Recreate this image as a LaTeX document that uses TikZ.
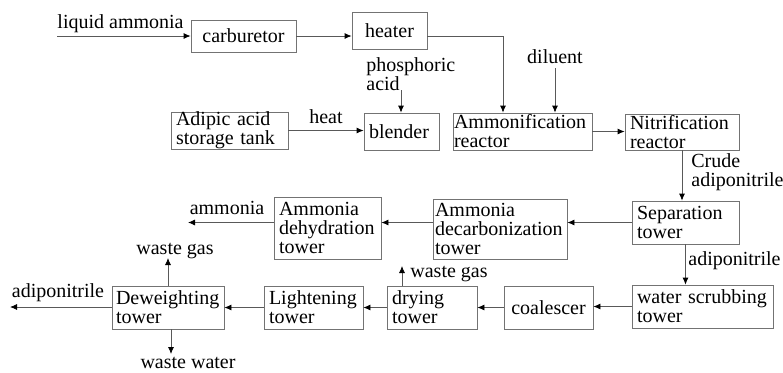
\documentclass[tikz,border=0pt]{standalone}
\usepackage{fontspec}
\setmainfont{Liberation Serif}
\usetikzlibrary{arrows.meta}
\tikzset{
  unit/.style={draw=black!55, inner xsep=2.5pt, inner ysep=0pt, align=left},
  flow/.style={draw=black!65, -{Latex[black,length=3.5pt,width=3pt]}},
  tag/.style={inner sep=0pt}
}
\begin{document}
\begin{tikzpicture}
    [x=0.5pt, y=-0.5pt, font=\fontsize{10}{9.5}\selectfont]
    \useasboundingbox (0,0) rectangle (783,372);
    % boxes
    \node[unit, align=center, text width=47.5pt, minimum height=16pt](carb) at (243.5,36) {carburetor};
    \node[unit, align=center, text width=32.5pt, minimum height=18.5pt](heater) at (389.5,30.5) {heater};
    \node[unit, text width=53.5pt, minimum height=18.5pt](adipic) at (229.5,130.5) {Adipic acid\\storage tank};
    \node[unit, text width=32.5pt, minimum height=18.5pt](blender) at (401.5,131.5) {blender};
    \node[unit, inner xsep=0.5pt, text width=68.5pt, minimum height=18.5pt](ammon) at (522.5,131.5) {Ammonification\\reactor};
    \node[unit, text width=52pt, minimum height=18pt](nitr) at (682,132) {Nitrification\\reactor};
    \node[unit, text width=48.5pt, minimum height=21.5pt](sep) at (685.5,222.5) {Separation\\tower};
    \node[unit, inner xsep=1pt, text width=65pt, minimum height=30pt](decarb) at (500,229) {Ammonia\\decarbonization\\tower};
    \node[unit, text width=48.5pt, minimum height=31pt](dehyd) at (327.5,228) {Ammonia\\dehydration\\tower};
    \node[unit, text width=65.5pt, minimum height=21.5pt](water) at (702.5,306.5) {water scrubbing\\tower};
    \node[unit, align=center, text width=39.5pt, minimum height=21.5pt](coal) at (548.5,307.5) {coalescer};
    \node[unit, text width=40pt, minimum height=21.5pt](dry) at (432,307.5) {drying\\tower};
    \node[unit, text width=44.5pt, minimum height=21.5pt](light) at (313.5,307.5) {Lightening\\tower};
    \node[unit, inner xsep=2pt, text width=52pt, minimum height=21.5pt](dewt) at (168,307.5) {Deweighting\\tower};
    % labels
    \node[tag](liq) at (120.5,24) {liquid ammonia};
    \node[tag](dil) at (555,57) {diluent};
    \node[tag, align=left, anchor=west](phos) at (366,74) {phosphoric\\acid};
    \node[tag](heat) at (326,117) {heat};
    \node[tag, align=left, anchor=west](crude) at (691,172) {Crude\\adiponitrile};
    \node[tag](amm) at (227,208) {ammonia};
    \node[tag, anchor=west](adn) at (688,261) {adiponitrile};
    \node[tag](adnlbl) at (58,293) {adiponitrile};
    \node[tag, anchor=west](wg1) at (410,274) {waste gas};
    \node[tag](wg2) at (175,251) {waste gas};
    \node[tag](ww) at (188,363) {waste water};
    % free ends
    \coordinate (liqin) at (57,36);
    \coordinate (hbend) at (503,36);
    \coordinate (pin) at (401,90);
    \coordinate (ammout) at (188,222.5);
    \coordinate (adnout) at (10,307);
    \coordinate (gas1) at (402,266);
    \coordinate (gas2) at (168,258);
    \coordinate (wat) at (171,354);
    % upper part
    \draw[flow](liqin) -- (liqin -| carb.west);
    \draw[flow](carb.east) -- (carb.east -| heater.west);
    \draw[flow](hbend -| heater.east) -- (hbend) -- (hbend |- ammon.north);
    \draw[flow, shorten <=2pt](dil.south) -- (dil.south |- ammon.north);
    \draw[flow](pin) -- (pin |- blender.north);
    \draw[flow](adipic.east) -- (adipic.east -| blender.west);
    \draw[flow](ammon.east) -- (ammon.east -| nitr.west);
    \draw[flow](nitr.south) -- (nitr.south |- sep.north);
    % middle row
    \draw[flow](sep.west) -- (sep.west -| decarb.east);
    \draw[flow](decarb.west |- sep.west) -- (sep.west -| dehyd.east);
    \draw[flow](dehyd.west |- ammout) -- (ammout);
    \draw[flow](sep.south) -- (sep.south |- water.north);
    % lower row
    \draw[flow](water.west) -- (water.west -| coal.east);
    \draw[flow](coal.west) -- (coal.west -| dry.east);
    \draw[flow](dry.west) -- (dry.west -| light.east);
    \draw[flow](light.west) -- (light.west -| dewt.east);
    \draw[flow](dewt.west |- adnout) -- (adnout);
    \draw[flow](gas1 |- dry.north) -- (gas1);
    \draw[flow](gas2 |- dewt.north) -- (gas2);
    \draw[flow](wat |- dewt.south) -- (wat);
\end{tikzpicture}
\end{document}
